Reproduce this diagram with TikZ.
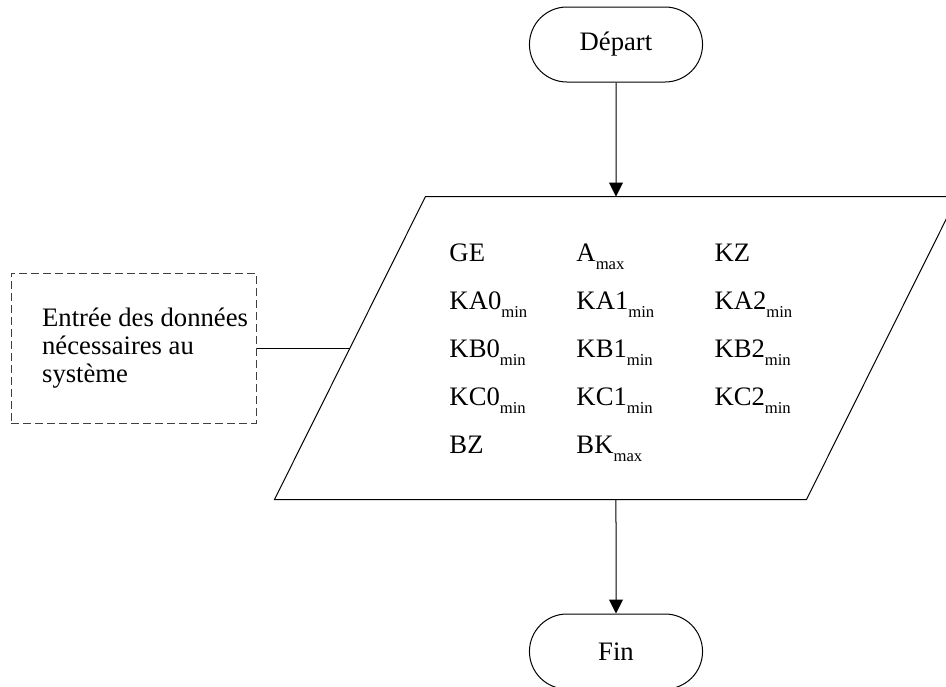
\documentclass[tikz,border=0pt]{standalone}
\usepackage{fontspec}
\setmainfont{Liberation Serif}
\usetikzlibrary{shapes.misc,positioning,arrows.meta}
\newcommand{\lowsub}[1]{\raisebox{-6.5pt}{\fontsize{12.5}{14}\selectfont #1}}

\begin{document}
\begin{tikzpicture}[
        node distance=85.5pt,
        line width=0.75pt,
        every node/.style={font=\fontsize{20}{21}\selectfont},
        terminal/.style={draw,rounded rectangle,minimum width=136.5pt,minimum height=56.25pt},
        io/.style={minimum width=398.25pt,minimum height=226.5pt},
        note/.style={draw=black!75,dash pattern=on 6pt off 3pt,minimum width=183.75pt,minimum height=112.5pt},
        notetext/.style={align=left,inner sep=0pt},
        item/.style={anchor=base west,inner sep=0pt},
        arrow/.style={-{Triangle[length=10.5pt,width=10.5pt]}}
    ]
    \useasboundingbox (-462pt,33.375pt) rectangle (247.5pt,-481.125pt);

    \node[terminal] (start) at (0,0) {Départ};
    \node[io] (io) [below = of start] {};
    \node[terminal] (stop) [below = of io] {Fin};
    \node[note] (input) [left = 70pt of io.west] {};
    \node[notetext] (inputtext) [right = 23.25pt of input.west] {Entrée des données\\nécessaires au\\système};

    % parallelogramme d'entree
    \draw ([xshift=-56.625pt]io.south west) -- ([xshift=56.625pt]io.north west)
        -- ([xshift=56.625pt]io.north east) -- ([xshift=-56.625pt]io.south east) -- cycle;

    % donnees d'entree
    \node[item] (ge)   at ([shift={(-125.25pt,65.25pt)}]io.center) {GE};
    \node[item] (amax) at ([shift={(-30pt,65.25pt)}]io.center) {A\lowsub{max}};
    \node[item] (kz)   at ([shift={(73.5pt,65.25pt)}]io.center) {KZ};
    \node[item] (ka0)  at ([shift={(-125.25pt,29.25pt)}]io.center) {KA0\lowsub{min}};
    \node[item] (ka1)  at ([shift={(-30pt,29.25pt)}]io.center) {KA1\lowsub{min}};
    \node[item] (ka2)  at ([shift={(73.5pt,29.25pt)}]io.center) {KA2\lowsub{min}};
    \node[item] (kb0)  at ([shift={(-125.25pt,-6.75pt)}]io.center) {KB0\lowsub{min}};
    \node[item] (kb1)  at ([shift={(-30pt,-6.75pt)}]io.center) {KB1\lowsub{min}};
    \node[item] (kb2)  at ([shift={(73.5pt,-6.75pt)}]io.center) {KB2\lowsub{min}};
    \node[item] (kc0)  at ([shift={(-125.25pt,-42.75pt)}]io.center) {KC0\lowsub{min}};
    \node[item] (kc1)  at ([shift={(-30pt,-42.75pt)}]io.center) {KC1\lowsub{min}};
    \node[item] (kc2)  at ([shift={(73.5pt,-42.75pt)}]io.center) {KC2\lowsub{min}};
    \node[item] (bz)   at ([shift={(-125.25pt,-78.75pt)}]io.center) {BZ};
    \node[item] (bkmax) at ([shift={(-30pt,-78.75pt)}]io.center) {BK\lowsub{max}};

    \draw[arrow] (start) -- (io.north);
    \draw[arrow] (io.south) -- (stop);
    \draw (input.east) -- (io.west);
\end{tikzpicture}
\end{document}
